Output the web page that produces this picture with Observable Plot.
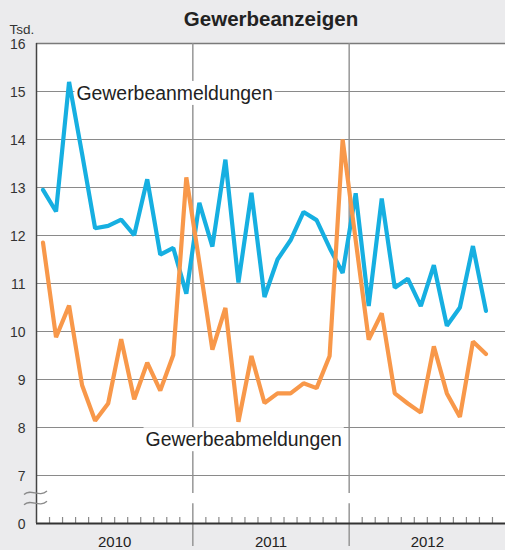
<!DOCTYPE html>
<html><head><meta charset="utf-8">
<script src="https://cdn.jsdelivr.net/npm/d3@7"></script>
<script src="https://cdn.jsdelivr.net/npm/@observablehq/plot@0.6"></script>
<style>
html,body{margin:0;padding:0;background:#ebebed;}
#chart{width:505px;height:550px;}
</style></head><body><div id="chart"></div>
<script>
// ---- data ----
const title = "Gewerbeanzeigen";
const unitLabel = "Tsd.";
const years = ["2010", "2011", "2012"];
const seriesNames = ["Gewerbeanmeldungen", "Gewerbeabmeldungen"];
const seriesColors = ["#16afe1", "#f8984a"];
// monthly values Jan 2010 .. Nov 2012 (Tsd.)
const anmeldungen = [12.95, 12.5, 15.2, 13.7, 12.15, 12.2, 12.33, 12.01, 13.17, 11.6, 11.74, 10.79,
  12.68, 11.77, 13.58, 11.02, 12.89, 10.72, 11.5, 11.9, 12.49, 12.32, 11.74, 11.22,
  12.88, 10.53, 12.77, 10.91, 11.1, 10.53, 11.38, 10.12, 10.5, 11.78, 10.43];
const abmeldungen = [11.85, 9.88, 10.54, 8.88, 8.14, 8.5, 9.84, 8.59, 9.35, 8.77, 9.51, 13.21,
  11.44, 9.62, 10.49, 8.12, 9.49, 8.51, 8.71, 8.71, 8.92, 8.82, 9.49, 14.0,
  11.9, 9.83, 10.38, 8.71, 8.5, 8.31, 9.69, 8.71, 8.22, 9.79, 9.53];
const yTicks = [6, 7, 8, 9, 10, 11, 12, 13, 14, 15, 16];
const yTickLabels = ["0", "7", "8", "9", "10", "11", "12", "13", "14", "15", "16"];
const axisBreak = [6.41, 6.625];          // value range hidden by the axis break
const labelPos = [{x: 3.07, y: 14.954}, {x: 8.37, y: 7.74}]; // series label anchors (month, value)

// ---- build ----
const nMonths = years.length * 12;
const rowsA = anmeldungen.map((v, i) => ({m: i + 0.5, v}));
const rowsB = abmeldungen.map((v, i) => ({m: i + 0.5, v}));
const yearStarts = years.map((_, j) => j * 12).filter(d => d > 0);
const monthTicks = d3.range(1, nMonths).filter(m => m % 12 !== 0);
const tickLabel = new Map(yTicks.map((d, i) => [d, yTickLabels[i]]));
const labels = seriesNames.map((s, i) => ({s, ...labelPos[i]}));
const font = "'Liberation Sans', Arial, Helvetica, sans-serif";
const lo = yTicks[0];

const chart = Plot.plot({
  width: 505, height: 550,
  marginLeft: 36, marginRight: 0, marginTop: 43, marginBottom: 27,
  style: {fontFamily: font, background: "transparent", overflow: "visible"},
  x: {domain: [0, nMonths], axis: null},
  y: {domain: [lo, 16], axis: null},
  marks: [
    Plot.frame({fill: "white", stroke: null}),
    Plot.ruleY(yTicks.filter(d => d > lo && d < 16), {stroke: "#8a8a8a", strokeWidth: 1}),
    Plot.ruleY([16], {stroke: "#7a7a7a", strokeWidth: 1.5}),
    Plot.ruleX(yearStarts, {y1: axisBreak[1], y2: 16, stroke: "#8f8f8f", strokeWidth: 1.4}),
    Plot.ruleX(yearStarts, {y1: lo - 0.48, y2: axisBreak[0], stroke: "#8f8f8f", strokeWidth: 1.4}),
    Plot.text(labels, {x: "x", y: "y", text: "s", textAnchor: "start", lineAnchor: "middle", fontSize: 19.4, fill: "#222"}),
    Plot.ruleX(monthTicks, {y1: lo, y2: lo + 6 / 48, stroke: "#8a8a8a", strokeWidth: 1.2}),
    Plot.ruleY([lo], {stroke: "#333", strokeWidth: 2}),
    Plot.ruleX([0], {stroke: "#444", strokeWidth: 1.5}),
    Plot.axisY(yTicks, {tickSize: 0, tickPadding: 11, fontSize: 14, fill: "#333", dy: 1,
      tickFormat: d => tickLabel.get(d)}),
    Plot.text(years, {x: (d, j) => j * 12 + 6, frameAnchor: "bottom", lineAnchor: "middle", dy: 18.2, fontSize: 15, fill: "#222"}),
    Plot.text([title], {frameAnchor: "top", lineAnchor: "middle", dy: -23.6, fontSize: 20.5, fontWeight: "bold", fill: "#222"}),
    Plot.text([unitLabel], {frameAnchor: "top-left", lineAnchor: "middle", textAnchor: "start", dx: -27, dy: -14.3, fontSize: 13.5, fill: "#333"}),
    Plot.line(rowsA, {x: "m", y: "v", stroke: seriesColors[0], strokeWidth: 4.2, strokeLinejoin: "miter"}),
    Plot.line(rowsB, {x: "m", y: "v", stroke: seriesColors[1], strokeWidth: 4.2, strokeLinejoin: "miter"})
  ]
});
document.getElementById("chart").append(chart);

// white boxes behind the series labels
const svg = d3.select(chart);
svg.selectAll("text").filter(function() { return seriesNames.includes(this.textContent); })
  .each(function() {
    const b = this.getBBox();
    const r = document.createElementNS("http://www.w3.org/2000/svg", "rect");
    r.setAttribute("x", b.x - 2); r.setAttribute("y", b.y - 1);
    r.setAttribute("width", b.width + 4); r.setAttribute("height", b.height + 2);
    r.setAttribute("fill", "white"); r.setAttribute("stroke", "none");
    const t = this.getAttribute("transform"); if (t) r.setAttribute("transform", t);
    this.parentNode.insertBefore(r, this);
  });

// axis break marks
const ys = chart.scale("y"), xs = chart.scale("x");
const x0 = xs.apply(0);
axisBreak.forEach(v => {
  const y = ys.apply(v);
  svg.append("path")
    .attr("d", `M${x0 - 12},${y + 1.5} C${x0 - 5},${y - 5} ${x0 + 3},${y + 5} ${x0 + 11},${y - 2}`)
    .attr("fill", "none").attr("stroke", "#8a8a8a").attr("stroke-width", 1.3);
});
</script></body></html>
